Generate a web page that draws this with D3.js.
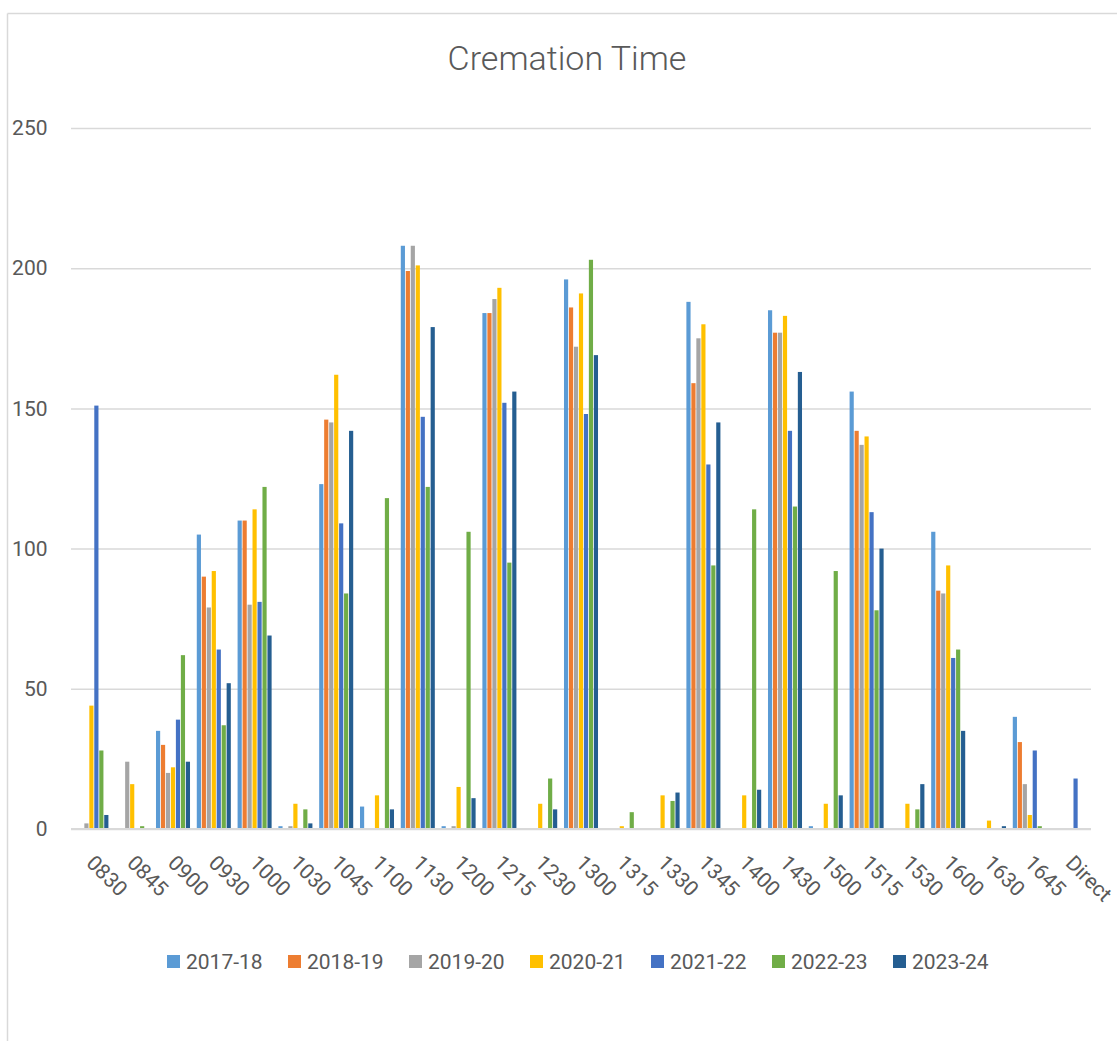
<!DOCTYPE html>
<html>
<head>
<meta charset="utf-8">
<script src="https://cdn.jsdelivr.net/npm/d3@7"></script>
<style>
  html, body { margin: 0; padding: 0; background: #ffffff; }
  svg { display: block; font-family: Roboto, "Open Sans", sans-serif; }
</style>
</head>
<body>
<svg id="chart" width="1117" height="1041"></svg>
<script>
const categories = ["0830","0845","0900","0930","1000","1030","1045","1100","1130","1200","1215","1230","1300","1315","1330","1345","1400","1430","1500","1515","1530","1600","1630","1645","Direct"];
const seriesNames = ["2017-18","2018-19","2019-20","2020-21","2021-22","2022-23","2023-24"];
const seriesColors = ["#5B9BD5","#ED7D31","#A5A5A5","#FFC000","#4472C4","#70AD47","#255E91"];

const s2017_18 = [0,0,35,105,110,1,123,8,208,1,184,0,196,0,0,188,0,185,1,156,0,106,0,40,0];
const s2018_19 = [0,0,30,90,110,0,146,0,199,0,184,0,186,0,0,159,0,177,0,142,0,85,0,31,0];
const s2019_20 = [2,24,20,79,80,1,145,0,208,1,189,0,172,0,0,175,0,177,0,137,0,84,0,16,0];
const s2020_21 = [44,16,22,92,114,9,162,12,201,15,193,9,191,1,12,180,12,183,9,140,9,94,3,5,0];
const s2021_22 = [151,0,39,64,81,0,109,0,147,0,152,0,148,0,0,130,0,142,0,113,0,61,0,28,18];
const s2022_23 = [28,1,62,37,122,7,84,118,122,106,95,18,203,6,10,94,114,115,92,78,7,64,0,1,0];
const s2023_24 = [5,0,24,52,69,2,142,7,179,11,156,7,169,0,13,145,14,163,12,100,16,35,1,0,0];
const seriesValues = [s2017_18, s2018_19, s2019_20, s2020_21, s2021_22, s2022_23, s2023_24];
const yTicks = [0,50,100,150,200,250];

const svg = d3.select("#chart");
const textColor = "#595959";
const gridColor = "#d9d9d9";

// chart border
svg.append("line").attr("x1",7.5).attr("y1",13.5).attr("x2",7.5).attr("y2",1041)
  .attr("stroke",gridColor).attr("stroke-width",1.5);
svg.append("line").attr("x1",7.5).attr("y1",13.5).attr("x2",1117).attr("y2",13.5)
  .attr("stroke",gridColor).attr("stroke-width",1.5);

const plotLeft = 71, plotRight = 1091, plotTop = 128, plotBottom = 829;

const x0 = d3.scaleBand().domain(categories).range([plotLeft, plotRight])
  .paddingInner(0.166).paddingOuter(0.083);
const x1 = d3.scaleBand().domain(seriesNames).range([0, x0.bandwidth()]).paddingInner(0.16);
const y = d3.scaleLinear().domain([0, 250]).range([plotBottom, plotTop]);

// title
svg.append("text").attr("x", 567).attr("y", 70).attr("text-anchor","middle")
  .attr("fill", textColor).style("font-size","34px").style("font-weight","300")
  .text("Cremation Time");

// y axis with gridlines
const yAxis = svg.append("g").attr("transform", `translate(${plotLeft},0)`)
  .call(d3.axisLeft(y).tickValues(yTicks).tickSize(-(plotRight-plotLeft)).tickPadding(23.5));
yAxis.select(".domain").remove();
yAxis.selectAll(".tick line").attr("stroke", gridColor).attr("stroke-width", 1.5);
yAxis.selectAll(".tick text").attr("fill", textColor).style("font-size","21px")
  .style("font-family","Roboto, 'Open Sans', sans-serif");

// bars
const groups = svg.append("g").selectAll("g").data(categories).join("g")
  .attr("transform", d => `translate(${x0(d)},0)`);
groups.selectAll("rect")
  .data((c, ci) => seriesNames.map((s, si) => ({s, si, v: seriesValues[si][ci]})))
  .join("rect")
  .attr("x", d => x1(d.s))
  .attr("width", x1.bandwidth())
  .attr("y", d => y(d.v))
  .attr("height", d => y(0) - y(d.v))
  .attr("fill", d => seriesColors[d.si]);

// x axis
const xAxis = svg.append("g").attr("transform", `translate(0,${plotBottom})`)
  .call(d3.axisBottom(x0).tickSize(0).tickPadding(0));
xAxis.select(".domain").attr("stroke", gridColor).attr("stroke-width", 1.8)
  .attr("d", `M${plotLeft},0H${plotRight}`);
xAxis.selectAll(".tick text")
  .attr("x", 0).attr("y", 0).attr("dy", "0.35em")
  .attr("transform", "translate(-1,30) rotate(45)")
  .style("text-anchor", "start")
  .attr("fill", textColor).style("font-size","21px")
  .style("font-family","Roboto, 'Open Sans', sans-serif");

// legend
const legend = svg.append("g");
const items = legend.selectAll("g").data(seriesNames).join("g")
  .attr("transform", (d, i) => `translate(${167 + i * 121},0)`);
items.append("rect").attr("x",0).attr("y",955).attr("width",13).attr("height",13)
  .attr("fill", (d, i) => seriesColors[i]);
items.append("text").attr("x",19).attr("y",961.5).attr("dy","0.35em")
  .attr("fill", textColor).style("font-size","21px").text(d => d);
</script>
</body>
</html>
